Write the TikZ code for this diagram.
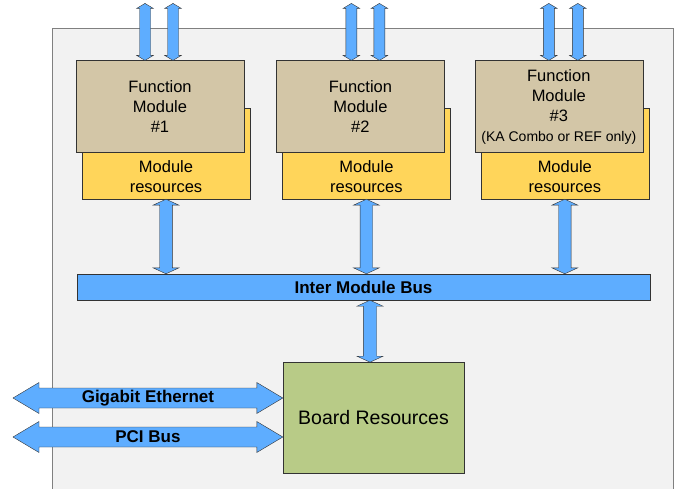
\documentclass[tikz,border=0pt]{standalone}
\usepackage{fontspec}
\setmainfont{Liberation Sans}
\usetikzlibrary{positioning,calc}

\definecolor{panelgray}{HTML}{F2F2F2}
\definecolor{tanfill}{HTML}{D3C6A7}
\definecolor{resyellow}{HTML}{FFD55A}
\definecolor{busblue}{HTML}{5EADFF}
\definecolor{boardgreen}{HTML}{B8CB87}

\tikzstyle{panel} = [draw=black!50, fill=panelgray]
\tikzstyle{resbox} = [rectangle, minimum width=168bp, minimum height=91bp, draw=black!80, fill=resyellow]
\tikzstyle{restext} = [align=center, anchor=center, yshift=23bp, font=\fontsize{16.5bp}{20bp}\selectfont]
\tikzstyle{funcbox} = [rectangle, minimum width=168bp, minimum height=92bp, text centered, align=center, draw=black!80, fill=tanfill, font=\fontsize{16.5bp}{20bp}\selectfont]
\tikzstyle{busbox} = [rectangle, minimum width=573bp, minimum height=26bp, draw=black!80, fill=busblue, font=\bfseries\fontsize{17bp}{20bp}\selectfont]
\tikzstyle{boardbox} = [rectangle, minimum width=181bp, minimum height=111bp, draw=black!80, fill=boardgreen, font=\fontsize{19.5bp}{23bp}\selectfont]
\tikzstyle{buslabel} = [font=\bfseries\fontsize{17bp}{20bp}\selectfont]
\tikzstyle{busarrow} = [draw=black!80, fill=busblue, line join=miter]

% from, to, half shaft, half head, head length
\newcommand{\blockarrow}[5]{%
  \path (#1) coordinate (ba-s) (#2) coordinate (ba-e);
  \path ($(ba-s)!#5!(ba-e)$) coordinate (ba-p) ($(ba-e)!#5!(ba-s)$) coordinate (ba-q);
  \draw [busarrow] (ba-s) -- ($(ba-p)!#4!90:(ba-e)$) -- ($(ba-p)!#3!90:(ba-e)$)
    -- ($(ba-q)!#3!-90:(ba-s)$) -- ($(ba-q)!#4!-90:(ba-s)$) -- (ba-e)
    -- ($(ba-q)!#4!90:(ba-s)$) -- ($(ba-q)!#3!90:(ba-s)$)
    -- ($(ba-p)!#3!-90:(ba-e)$) -- ($(ba-p)!#4!-90:(ba-e)$) -- cycle;}

\begin{document}
\begin{tikzpicture}[x=1bp, y=-1bp]
	\useasboundingbox (0,0) rectangle (675,489);
	\draw [panel] (52,28) rectangle (673,500);

	\node (res1) [resbox, label={[restext]south:Module\\resources}] at (166,153.5) {};
	\node (res2) [resbox, right=32bp of res1, label={[restext]south:Module\\resources}] {};
	\node (res3) [resbox, right=30bp of res2, label={[restext]south:Module\\resources}] {};
	\node (fm1) [funcbox, above=-45bp of res1, xshift=-6bp] {Function\\Module\\\#1};
	\node (fm2) [funcbox, above=-45bp of res2, xshift=-6bp] {Function\\Module\\\#2};
	\node (fm3) [funcbox, above=-45bp of res3, xshift=-6bp] {Function\\Module\\\#3\\{\fontsize{14bp}{16bp}\selectfont (KA Combo or REF only)}};

	\node (bus) [busbox] at (363.5,287) {Inter Module Bus};
	\node (board) [boardbox, below=62bp of bus, xshift=10bp] {Board Resources};

	\coordinate (up1a) at ($(fm1.north)+(-15,-57)$);
	\coordinate (up1b) at ($(fm1.north)+(13,-57)$);
	\coordinate (up2a) at ($(fm2.north)+(-9,-57)$);
	\coordinate (up2b) at ($(fm2.north)+(19,-57)$);
	\coordinate (up3a) at ($(fm3.north)+(-10,-57)$);
	\coordinate (up3b) at ($(fm3.north)+(19,-57)$);
	\coordinate (boardin) at ($(board.north)+(-3.5,0)$);
	\coordinate (ethL) at (13,398);
	\coordinate (pciL) at (13,437);

	\blockarrow{up1a}{up1a |- fm1.north}{5.5bp}{8.3bp}{5bp}
	\blockarrow{up1b}{up1b |- fm1.north}{5.5bp}{8.3bp}{5bp}
	\blockarrow{up2a}{up2a |- fm2.north}{5.5bp}{8.3bp}{5bp}
	\blockarrow{up2b}{up2b |- fm2.north}{5.5bp}{8.3bp}{5bp}
	\blockarrow{up3a}{up3a |- fm3.north}{5.5bp}{8.3bp}{5bp}
	\blockarrow{up3b}{up3b |- fm3.north}{5.5bp}{8.3bp}{5bp}

	\blockarrow{res1.south}{res1.south |- bus.north}{6.3bp}{13bp}{6bp}
	\blockarrow{res2.south}{res2.south |- bus.north}{6.3bp}{13bp}{6bp}
	\blockarrow{res3.south}{res3.south |- bus.north}{6.3bp}{13bp}{6bp}
	\blockarrow{boardin |- bus.south}{boardin}{6.7bp}{13bp}{6bp}

	\blockarrow{ethL}{ethL -| board.west}{10bp}{15.5bp}{26bp}
	\blockarrow{pciL}{pciL -| board.west}{10bp}{15.5bp}{26bp}
	\node [buslabel] at ($(ethL)!0.5!(ethL -| board.west)$) {Gigabit Ethernet};
	\node [buslabel] at ($(pciL)!0.5!(pciL -| board.west)$) {PCI Bus};
\end{tikzpicture}
\end{document}
